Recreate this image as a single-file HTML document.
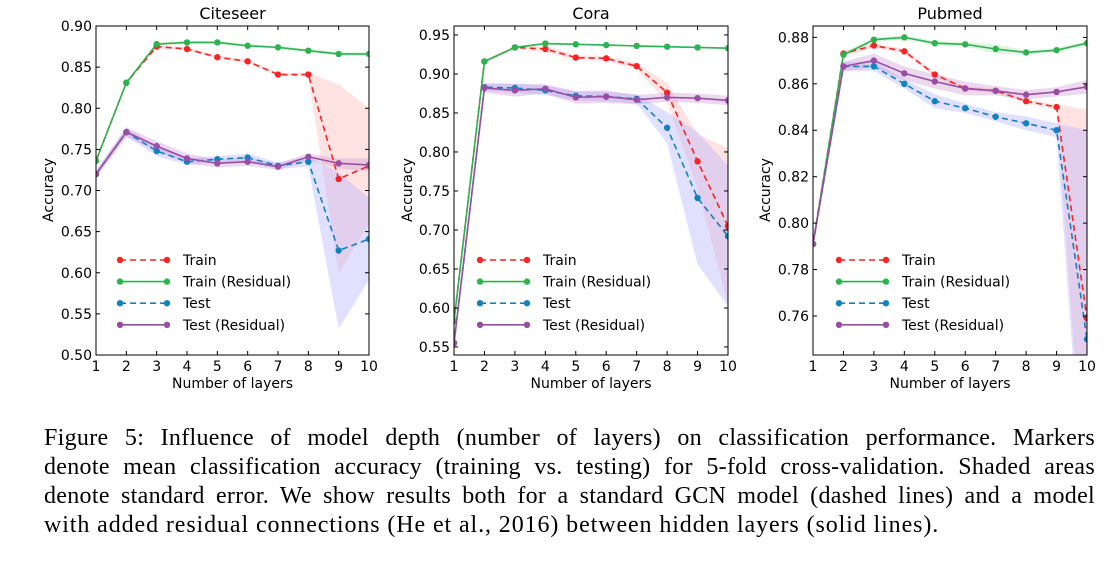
<!DOCTYPE html>
<html><head><meta charset="utf-8">
<style>
body{margin:0;background:#fff;width:1114px;height:566px;overflow:hidden;position:relative}
svg{position:absolute;left:0;top:0}
#caption{position:absolute;left:44px;top:424px;width:1051px;font-family:"Liberation Serif",serif;font-size:24px;letter-spacing:0.9px;line-height:29px;color:#000}
#caption .ln{text-align:justify;text-align-last:justify;white-space:nowrap}
#caption .last{text-align:left;text-align-last:left}
</style></head><body>
<svg id="fig" width="1114" height="420"></svg>
<div id="caption">
<div class="ln" style="letter-spacing:0.3px">Figure 5: Influence of model depth (number of layers) on classification performance. Markers</div>
<div class="ln" style="letter-spacing:0.3px">denote mean classification accuracy (training vs. testing) for 5-fold cross-validation. Shaded areas</div>
<div class="ln" style="letter-spacing:0.3px">denote standard error. We show results both for a standard GCN model (dashed lines) and a model</div>
<div class="ln last">with added residual connections (He et al., 2016) between hidden layers (solid lines).</div>
</div>
<script>
const layers=[1,2,3,4,5,6,7,8,9,10];
const seriesNames=["Train","Train (Residual)","Test","Test (Residual)"];
// Citeseer
const citeTrain=[.736,.831,.875,.872,.862,.857,.841,.841,.714,.730];
const citeTrainRes=[.736,.831,.878,.880,.880,.876,.874,.870,.866,.866];
const citeTest=[.720,.771,.748,.735,.738,.740,.730,.735,.627,.641];
const citeTestRes=[.720,.771,.754,.739,.733,.735,.729,.741,.733,.731];
const citeTrainErr=[.002,.002,.002,.002,.002,.002,.002,.002,.115,.07];
const citeTrainResErr=[.002,.002,.002,.002,.002,.002,.002,.002,.002,.002];
const citeTestErr=[.004,.005,.006,.004,.004,.005,.004,.006,.095,.05];
const citeTestResErr=[.004,.006,.006,.006,.005,.005,.004,.004,.006,.008];
const citeTicks=[0.50,0.55,0.60,0.65,0.70,0.75,0.80,0.85,0.90];
// Cora
const coraTrain=[.583,.916,.934,.932,.921,.920,.910,.876,.788,.705];
const coraTrainRes=[.583,.916,.934,.939,.938,.937,.936,.935,.934,.933];
const coraTest=[.555,.883,.882,.879,.872,.871,.868,.831,.741,.692];
const coraTestRes=[.555,.882,.879,.881,.870,.871,.867,.870,.869,.866];
const coraTrainErr=[.003,.002,.002,.004,.003,.003,.004,.012,.035,.1];
const coraTrainResErr=[.002,.001,.001,.001,.001,.001,.001,.001,.001,.001];
const coraTestErr=[.003,.005,.006,.006,.006,.006,.006,.02,.085,.09];
const coraTestResErr=[.003,.006,.008,.006,.008,.008,.006,.006,.006,.006];
const coraTicks=[0.55,0.60,0.65,0.70,0.75,0.80,0.85,0.90,0.95];
// Pubmed
const pubTrain=[.791,.873,.8765,.874,.864,.858,.857,.8525,.850,.759];
const pubTrainRes=[.791,.8725,.879,.880,.8775,.877,.875,.8735,.8745,.8775];
const pubTest=[.791,.8675,.8675,.860,.8525,.8495,.8458,.843,.840,.750];
const pubTestRes=[.791,.8675,.870,.8645,.861,.858,.857,.8553,.8565,.8587];
const pubTrainErr=[.001,.001,.001,.001,.001,.001,.001,.001,.001,.09];
const pubTrainResErr=[.001,.001,.001,.001,.001,.001,.002,.001,.001,.001];
const pubTestErr=[.001,.002,.002,.002,.003,.002,.002,.003,.003,.09];
const pubTestResErr=[.001,.002,.003,.003,.003,.003,.002,.002,.002,.003];
const pubTicks=[0.76,0.78,0.80,0.82,0.84,0.86,0.88];

const charts=[
 {name:"citeseer",title:"Citeseer",l:96,r:369,ymin:.50,ymax:.90,ticks:citeTicks,dec:2,ylab:48,lx:120,
  d:[citeTrain,citeTrainRes,citeTest,citeTestRes],e:[citeTrainErr,citeTrainResErr,citeTestErr,citeTestResErr]},
 {name:"cora",title:"Cora",l:454,r:728,ymin:.5397,ymax:.9615,ticks:coraTicks,dec:2,ylab:407,lx:480,
  d:[coraTrain,coraTrainRes,coraTest,coraTestRes],e:[coraTrainErr,coraTrainResErr,coraTestErr,coraTestResErr]},
 {name:"pubmed",title:"Pubmed",l:813,r:1087,ymin:.7432,ymax:.8849,ticks:pubTicks,dec:2,ylab:765,lx:839,
  d:[pubTrain,pubTrainRes,pubTest,pubTestRes],e:[pubTrainErr,pubTrainResErr,pubTestErr,pubTestResErr]}
];
const cols=["#f52525","#2eb24f","#1281c0","#984ea3"];
const bandCols=["#ffb0b0","#a8e0b0","#aaaaff","#c890d0"];
const dashes=["6,4","","6,4",""];
const T=26,B=355;
const NS="http://www.w3.org/2000/svg";
const svg=document.getElementById('fig');
function mk(tag,attrs,parent){const el=document.createElementNS(NS,tag);for(const k in attrs)el.setAttribute(k,attrs[k]);(parent||svg).appendChild(el);return el;}
charts.forEach(c=>{
  const g=mk('g',{});
  
  
  const clipId='clip-'+c.name;
  const cp=mk('clipPath',{id:clipId},g);mk('rect',{x:c.l,y:T,width:c.r-c.l,height:B-T},cp);
  const xs=v=>c.l+(v-1)/9*(c.r-c.l);
  const ys=v=>B-(v-c.ymin)/(c.ymax-c.ymin)*(B-T);
  const plot=mk('g',{'clip-path':'url(#'+clipId+')'},g);
  c.d.forEach((arr,si)=>{
    const up=arr.map((v,i)=>xs(layers[i])+','+ys(v+c.e[si][i]));
    const dn=arr.map((v,i)=>xs(layers[i])+','+ys(v-c.e[si][i])).reverse();
    const band=mk('polygon',{points:up.concat(dn).join(' '),fill:bandCols[si],opacity:0.35},plot);
    
    
  });
  c.d.forEach((arr,si)=>{
    const pts=arr.map((v,i)=>xs(layers[i])+','+ys(v)).join(' ');
    const line=mk('polyline',{points:pts,fill:'none',stroke:cols[si],'stroke-width':1.6,'stroke-dasharray':dashes[si]},plot);
    
    
    arr.forEach((v,i)=>{
      const pt=mk('circle',{cx:xs(layers[i]),cy:ys(v),r:3.2,fill:cols[si]},plot);
      
      
    });
  });
  const fr=mk('rect',{x:c.l,y:T,width:c.r-c.l,height:B-T,fill:'none',stroke:'#000','stroke-width':1},g);
  
  
  const font='font-family:"DejaVu Sans","Liberation Sans",sans-serif';
  layers.forEach(v=>{
    const x=xs(v);
    mk('line',{x1:x,x2:x,y1:B,y2:B-4,stroke:'#000'},g);
    mk('line',{x1:x,x2:x,y1:T,y2:T+4,stroke:'#000'},g);
    const t=mk('text',{x:x,y:B+16,'text-anchor':'middle','font-size':14,style:font},g);
    t.textContent=v;
    
    
  });
  c.ticks.forEach(v=>{
    const y=ys(v);
    mk('line',{x1:c.l,x2:c.l+4,y1:y,y2:y,stroke:'#000'},g);
    mk('line',{x1:c.r,x2:c.r-4,y1:y,y2:y,stroke:'#000'},g);
    const t=mk('text',{x:c.l-4,y:y+5,'text-anchor':'end','font-size':14,style:font},g);
    t.textContent=v.toFixed(c.dec);
    
    
  });
  const ti=mk('text',{x:(c.l+c.r)/2,y:19,'text-anchor':'middle','font-size':16,style:font},g);
  ti.textContent=c.title;
  
  
  const xl=mk('text',{x:(c.l+c.r)/2,y:388,'text-anchor':'middle','font-size':14,style:font},g);
  xl.textContent='Number of layers';
  
  
  const yl=mk('text',{x:0,y:0,'text-anchor':'middle','font-size':14,style:font,transform:'translate('+(c.ylab+5)+',190) rotate(-90)'},g);
  yl.textContent='Accuracy';
  
  
  seriesNames.forEach((n,si)=>{
    const y=260+si*21.6;
    const lg=mk('g',{},g);
    
    
    mk('line',{x1:c.lx,x2:c.lx+47,y1:y,y2:y,stroke:cols[si],'stroke-width':1.6,'stroke-dasharray':dashes[si]},lg);
    mk('circle',{cx:c.lx,cy:y,r:3.2,fill:cols[si]},lg);
    mk('circle',{cx:c.lx+47,cy:y,r:3.2,fill:cols[si]},lg);
    const t=mk('text',{x:c.lx+63,y:y+5,'font-size':14,style:font},lg);
    t.textContent=n;
  });
});
</script>
</body></html>
